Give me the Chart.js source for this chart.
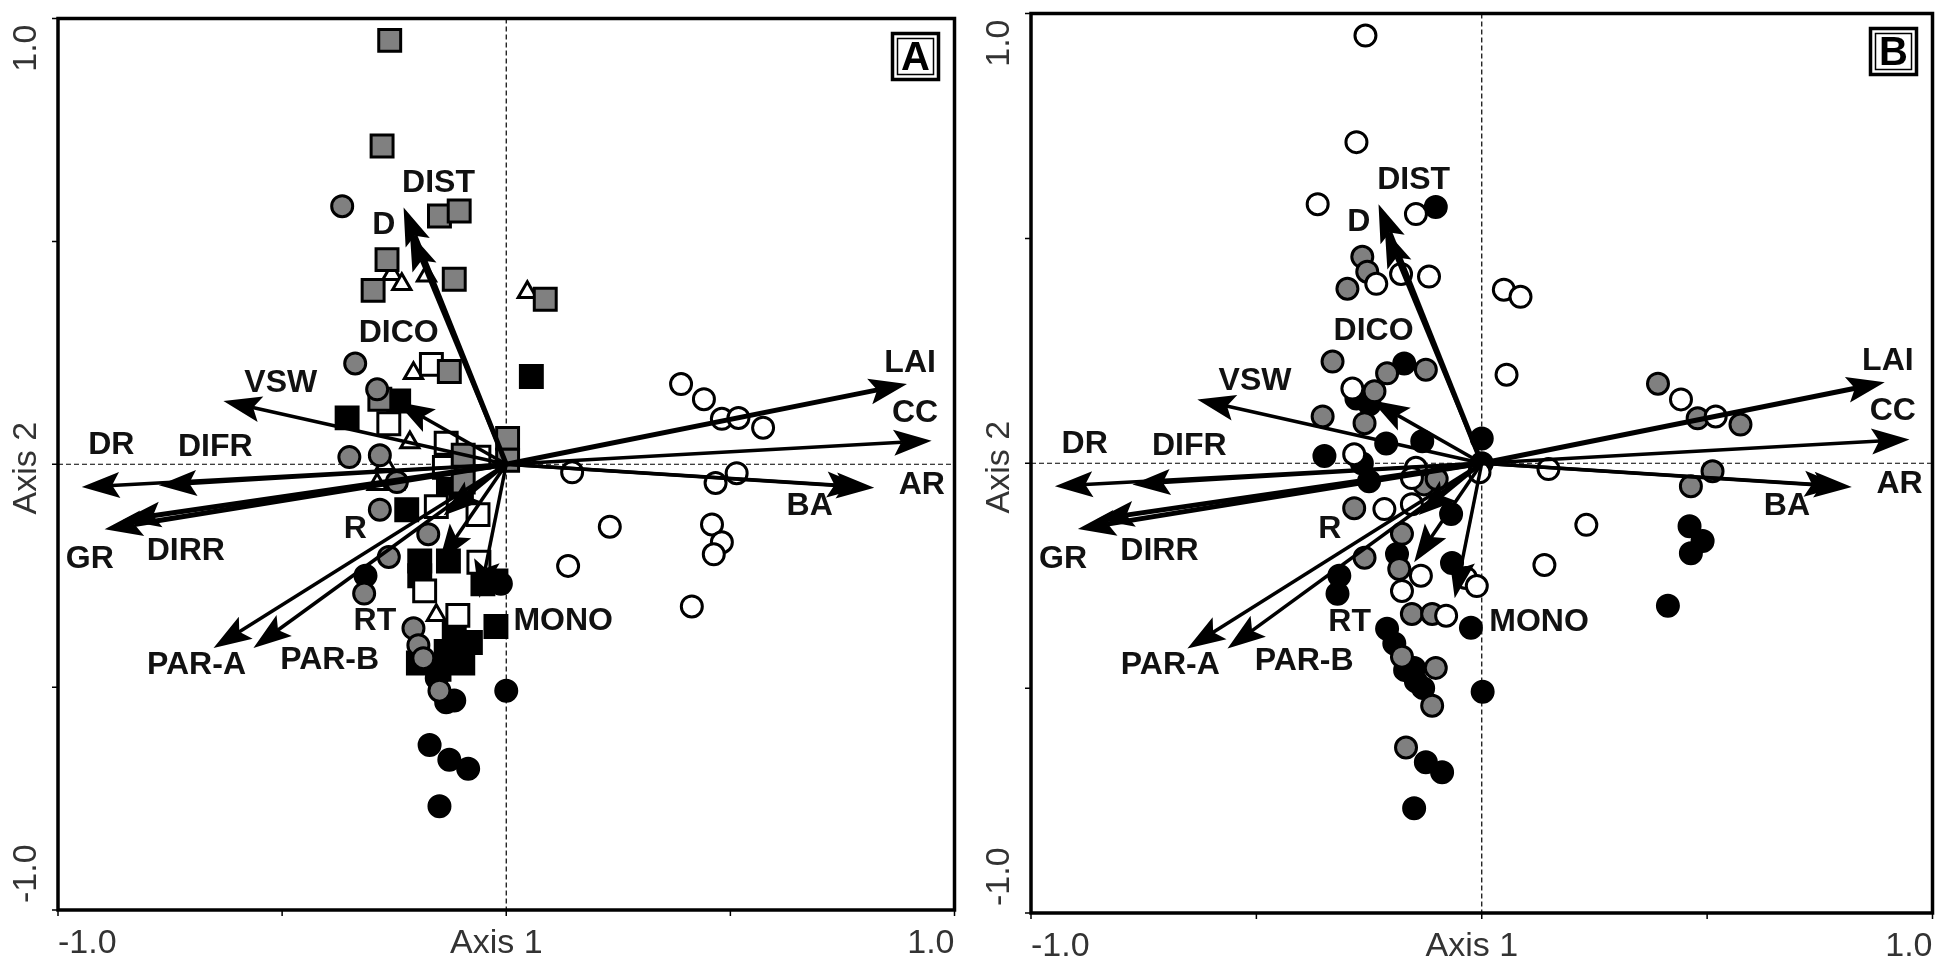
<!DOCTYPE html>
<html>
<head>
<meta charset="utf-8">
<script src="https://cdn.jsdelivr.net/npm/chart.js@4.4.1/dist/chart.umd.min.js"></script>
<style>
  html, body { margin: 0; padding: 0; background: #fff; }
  .panel { position: absolute; top: 0; width: 973px; height: 961px; }
  #panelA { left: 0; }
  #panelB { left: 973px; }
</style>
</head>
<body>
<div class="panel" id="panelA"><canvas id="chartA" width="973" height="961"></canvas></div>
<div class="panel" id="panelB"><canvas id="chartB" width="973" height="961"></canvas></div>
<script>
/* --------------------------
   DATA: environmental vectors (same in both panels)
-------------------------- */
const arrowNames = ["DIST", "D", "DICO", "VSW", "DR", "DIFR", "GR", "DIRR", "R", "RT", "PAR-A", "PAR-B", "MONO", "LAI", "CC", "AR", "BA"];
const arrowX = [-0.229, -0.215, -0.245, -0.631, -0.947, -0.775, -0.896, -0.855, -0.14, -0.15, -0.653, -0.564, -0.06, 0.894, 0.949, 0.821, 0.80];
const arrowY = [0.576, 0.52, 0.14, 0.142, -0.051, -0.047, -0.146, -0.125, -0.115, -0.22, -0.412, -0.412, -0.3, 0.18, 0.053, -0.053, -0.051];
const labelX = [-0.151, -0.273, -0.24, -0.503, -0.881, -0.649, -0.929, -0.715, -0.337, -0.293, -0.691, -0.394, 0.127, 0.901, 0.912, 0.927, 0.677];
const labelY = [0.63, 0.537, 0.293, 0.182, 0.042, 0.038, -0.213, -0.195, -0.146, -0.353, -0.45, -0.439, -0.353, 0.226, 0.115, -0.047, -0.095];

/* --------------------------
   DATA: panel A samples
-------------------------- */
const whiteCirclesA = [[0.39,0.18],[0.441,0.146],[0.481,0.102],[0.518,0.104],[0.573,0.082],[0.147,-0.018],[0.514,-0.02],[0.467,-0.042],[0.231,-0.14],[0.138,-0.228],[0.459,-0.135],[0.481,-0.175],[0.463,-0.202],[0.414,-0.319]];
const grayCirclesA = [[-0.366,0.579],[-0.337,0.226],[-0.288,0.168],[-0.35,0.016],[-0.282,0.02],[-0.244,-0.04],[-0.282,-0.102],[-0.174,-0.157],[-0.262,-0.208],[-0.317,-0.29],[-0.207,-0.368],[-0.196,-0.406],[-0.185,-0.435],[-0.149,-0.508]];
const blackCirclesA = [[-0.314,-0.25],[-0.012,-0.268],[0.0,-0.508],[-0.116,-0.53],[-0.134,-0.534],[-0.171,-0.63],[-0.127,-0.663],[-0.085,-0.683],[-0.149,-0.767],[-0.155,-0.48]];
const graySquaresA = [[-0.26,0.951],[-0.277,0.714],[-0.149,0.557],[-0.105,0.568],[-0.266,0.459],[-0.116,0.415],[-0.297,0.39],[-0.127,0.208],[-0.282,0.146],[0.087,0.37],[0.003,0.058],[0.003,0.009],[-0.096,-0.04],[-0.096,0.02]];
const whiteSquaresA = [[-0.167,0.224],[-0.262,0.091],[-0.134,0.047],[-0.061,0.016],[-0.138,-0.007],[-0.156,-0.095],[-0.063,-0.113],[-0.061,-0.22],[-0.182,-0.284],[-0.108,-0.339]];
const blackSquaresA = [[-0.24,0.142],[-0.355,0.104],[0.056,0.197],[-0.129,-0.042],[-0.222,-0.102],[-0.193,-0.217],[-0.193,-0.25],[-0.129,-0.217],[-0.052,-0.268],[-0.023,-0.262],[-0.023,-0.364],[-0.134,-0.42],[-0.097,-0.446],[-0.116,-0.38],[-0.196,-0.446],[-0.15,-0.46],[-0.08,-0.4],[-0.1,-0.05]];
const whiteTrianglesA = [[-0.255,0.426],[-0.233,0.404],[-0.178,0.423],[-0.207,0.204],[-0.215,0.049],[0.047,0.386],[-0.27,0.0],[-0.288,-0.045],[-0.25,-0.045],[-0.156,-0.339]];

/* --------------------------
   DATA: panel B samples
-------------------------- */
const whiteCirclesB = [[-0.258,0.951],[-0.278,0.714],[-0.364,0.576],[-0.146,0.554],[-0.234,0.399],[-0.179,0.421],[-0.117,0.415],[-0.287,0.166],[-0.283,0.02],[-0.146,-0.01],[-0.155,-0.033],[0.049,0.386],[0.086,0.37],[0.055,0.197],[0.148,-0.013],[0.232,-0.137],[0.139,-0.226],[-0.216,-0.102],[-0.155,-0.091],[-0.135,-0.25],[-0.177,-0.284],[-0.035,-0.255],[-0.011,-0.273],[-0.079,-0.339],[0.442,0.142],[0.519,0.104],[-0.005,-0.02]];
const grayCirclesB = [[-0.265,0.459],[-0.254,0.426],[-0.298,0.388],[-0.331,0.226],[-0.21,0.2],[-0.124,0.208],[-0.238,0.16],[-0.353,0.104],[-0.26,0.089],[-0.283,-0.1],[-0.177,-0.157],[-0.26,-0.21],[-0.183,-0.235],[-0.155,-0.335],[-0.11,-0.335],[-0.177,-0.43],[-0.102,-0.455],[-0.11,-0.539],[-0.168,-0.632],[0.391,0.177],[0.479,0.1],[0.574,0.086],[0.512,-0.018],[0.464,-0.051],[-0.128,-0.047],[-0.1,-0.035]];
const blackCirclesB = [[-0.102,0.57],[-0.172,0.222],[-0.278,0.144],[-0.249,0.131],[-0.212,0.044],[-0.132,0.049],[0.0,0.055],[-0.349,0.016],[-0.266,0.0],[-0.25,-0.04],[-0.068,-0.113],[-0.316,-0.25],[-0.32,-0.29],[-0.188,-0.202],[-0.066,-0.222],[-0.024,-0.366],[-0.21,-0.368],[-0.194,-0.401],[-0.15,-0.455],[-0.146,-0.485],[0.002,-0.508],[-0.124,-0.665],[-0.088,-0.687],[-0.15,-0.767],[0.461,-0.14],[0.49,-0.173],[0.464,-0.2],[0.413,-0.317],[-0.13,-0.5],[-0.17,-0.46],[0.0,0.0]];

/* --------------------------
   AXIS TEXT
-------------------------- */
const tickValues = [-1, -0.5, 0, 0.5, 1];
const tickLabels = ["-1.0", "1.0"];
const axisTitles = ["Axis 1", "Axis 2"];

const heavyArrows = ["DIST", "LAI", "GR", "DIRR"];
const FONT = "'Liberation Sans', Arial, sans-serif";

const toXY = list => list.map(p => ({ x: p[0], y: p[1] }));

function pointSet(list, style, fill) {
    const r = style === "rect" ? 15.5 : 10.5;
    return {
        data: toXY(list),
        pointStyle: style,
        backgroundColor: fill,
        borderColor: "#000",
        borderWidth: 3,
        pointRadius: r,
        pointHoverRadius: r,
        showLine: false
    };
}

/* --------------------------
   ARROWS + FRAME PLUGIN
-------------------------- */
function drawArrow(ctx, x0, y0, x1, y1, w) {
    const ang = Math.atan2(y1 - y0, x1 - x0);
    const L = 38, H = 13;
    const c = Math.cos(ang), s = Math.sin(ang);
    const bx = x1 - L * c, by = y1 - L * s;
    ctx.lineWidth = w;
    ctx.beginPath();
    ctx.moveTo(x0, y0);
    ctx.lineTo(bx + 8 * c, by + 8 * s);
    ctx.stroke();
    ctx.beginPath();
    ctx.moveTo(x1, y1);
    ctx.lineTo(bx - H * s, by + H * c);
    ctx.lineTo(bx + 0.2 * L * c, by + 0.2 * L * s);
    ctx.lineTo(bx + H * s, by - H * c);
    ctx.closePath();
    ctx.fill();
}

const biplotPlugin = {
    id: "biplot",
    beforeDatasetsDraw(chart) {
        const { ctx, chartArea: a, scales: { x, y } } = chart;
        const x0 = x.getPixelForValue(0);
        const y0 = y.getPixelForValue(0);
        ctx.save();
        ctx.strokeStyle = "#000";
        ctx.lineWidth = 1.2;
        ctx.setLineDash([5, 3]);
        ctx.beginPath();
        ctx.moveTo(a.left, y0); ctx.lineTo(a.right, y0);
        ctx.moveTo(x0, a.top); ctx.lineTo(x0, a.bottom);
        ctx.stroke();
        ctx.restore();
    },
    afterDatasetsDraw(chart, args, opts) {
        const { ctx, chartArea: a, scales: { x, y } } = chart;
        const x0 = x.getPixelForValue(0);
        const y0 = y.getPixelForValue(0);

        // arrows
        ctx.save();
        ctx.strokeStyle = "#000";
        ctx.fillStyle = "#000";
        ctx.lineCap = "butt";
        arrowNames.forEach((name, i) => {
            const w = heavyArrows.includes(name) ? 5 : 3.5;
            drawArrow(ctx, x0, y0, x.getPixelForValue(arrowX[i]), y.getPixelForValue(arrowY[i]), w);
        });

        // arrow labels
        ctx.font = "bold 32px " + FONT;
        ctx.textAlign = "center";
        ctx.textBaseline = "middle";
        ctx.fillStyle = "#111";
        arrowNames.forEach((name, i) => {
            ctx.fillText(name, x.getPixelForValue(labelX[i]), y.getPixelForValue(labelY[i]));
        });

        // frame
        ctx.lineWidth = 3.5;
        ctx.strokeStyle = "#000";
        ctx.strokeRect(a.left, a.top, a.right - a.left, a.bottom - a.top);

        // ticks
        ctx.lineWidth = 1.5;
        ctx.beginPath();
        tickValues.forEach(v => {
            const py = y.getPixelForValue(v);
            ctx.moveTo(a.left - 6, py); ctx.lineTo(a.left, py);
            const px = x.getPixelForValue(v);
            ctx.moveTo(px, a.bottom); ctx.lineTo(px, a.bottom + 6);
        });
        ctx.stroke();

        // tick labels and titles
        ctx.fillStyle = "#333";
        ctx.font = "34px " + FONT;
        ctx.textBaseline = "alphabetic";
        const base = a.bottom + 43;
        ctx.textAlign = "left";
        ctx.fillText(tickLabels[0], x.getPixelForValue(-1), base);
        ctx.textAlign = "right";
        ctx.fillText(tickLabels[1], x.getPixelForValue(1), base);
        ctx.textAlign = "center";
        ctx.fillText(axisTitles[0], x0 - 10, base);

        ctx.save();
        ctx.translate(27, 0);
        ctx.rotate(-Math.PI / 2);
        ctx.textBaseline = "middle";
        ctx.textAlign = "right";
        ctx.fillText(tickLabels[1], -(y.getPixelForValue(1) + 6), 0);
        ctx.textAlign = "left";
        ctx.fillText(tickLabels[0], -(y.getPixelForValue(-1) - 7), 0);
        ctx.textAlign = "center";
        ctx.fillText(axisTitles[1], -(y0 + 4), 0);
        ctx.restore();

        // panel letter
        const bx = a.right - 62, by = a.top + 15, bs = 46;
        ctx.fillStyle = "#fff";
        ctx.fillRect(bx, by, bs, bs);
        ctx.strokeStyle = "#000";
        ctx.lineWidth = 3.5;
        ctx.strokeRect(bx, by, bs, bs);
        ctx.lineWidth = 1.5;
        ctx.strokeRect(bx + 5, by + 5, bs - 10, bs - 10);
        ctx.fillStyle = "#000";
        ctx.font = "bold 40px " + FONT;
        ctx.textAlign = "center";
        ctx.textBaseline = "middle";
        ctx.fillText(opts.letter, bx + bs / 2, by + bs / 2 + 2);
        ctx.restore();
    }
};

/* --------------------------
   BUILD CHARTS
-------------------------- */
function makeChart(id, datasets, letter, padding) {
    return new Chart(document.getElementById(id), {
        type: "scatter",
        data: { datasets },
        options: {
            responsive: false,
            animation: false,
            events: [],
            layout: { padding },
            scales: {
                x: { type: "linear", min: -1, max: 1, display: false },
                y: { type: "linear", min: -1, max: 1, display: false }
            },
            plugins: {
                legend: { display: false },
                tooltip: { enabled: false },
                biplot: { letter }
            }
        },
        plugins: [biplotPlugin]
    });
}

makeChart("chartA", [
    pointSet(whiteCirclesA, "circle", "#ffffff"),
    pointSet(grayCirclesA, "circle", "#808080"),
    pointSet(blackCirclesA, "circle", "#000000"),
    pointSet(graySquaresA, "rect", "#808080"),
    pointSet(whiteSquaresA, "rect", "#ffffff"),
    pointSet(blackSquaresA, "rect", "#000000"),
    pointSet(whiteTrianglesA, "triangle", "#ffffff")
], "A", { left: 58, top: 7, right: 10, bottom: 51 });

makeChart("chartB", [
    pointSet(whiteCirclesB, "circle", "#ffffff"),
    pointSet(grayCirclesB, "circle", "#808080"),
    pointSet(blackCirclesB, "circle", "#000000")
], "B", { left: 58, top: 12, right: 9, bottom: 48 });
</script>
</body>
</html>
